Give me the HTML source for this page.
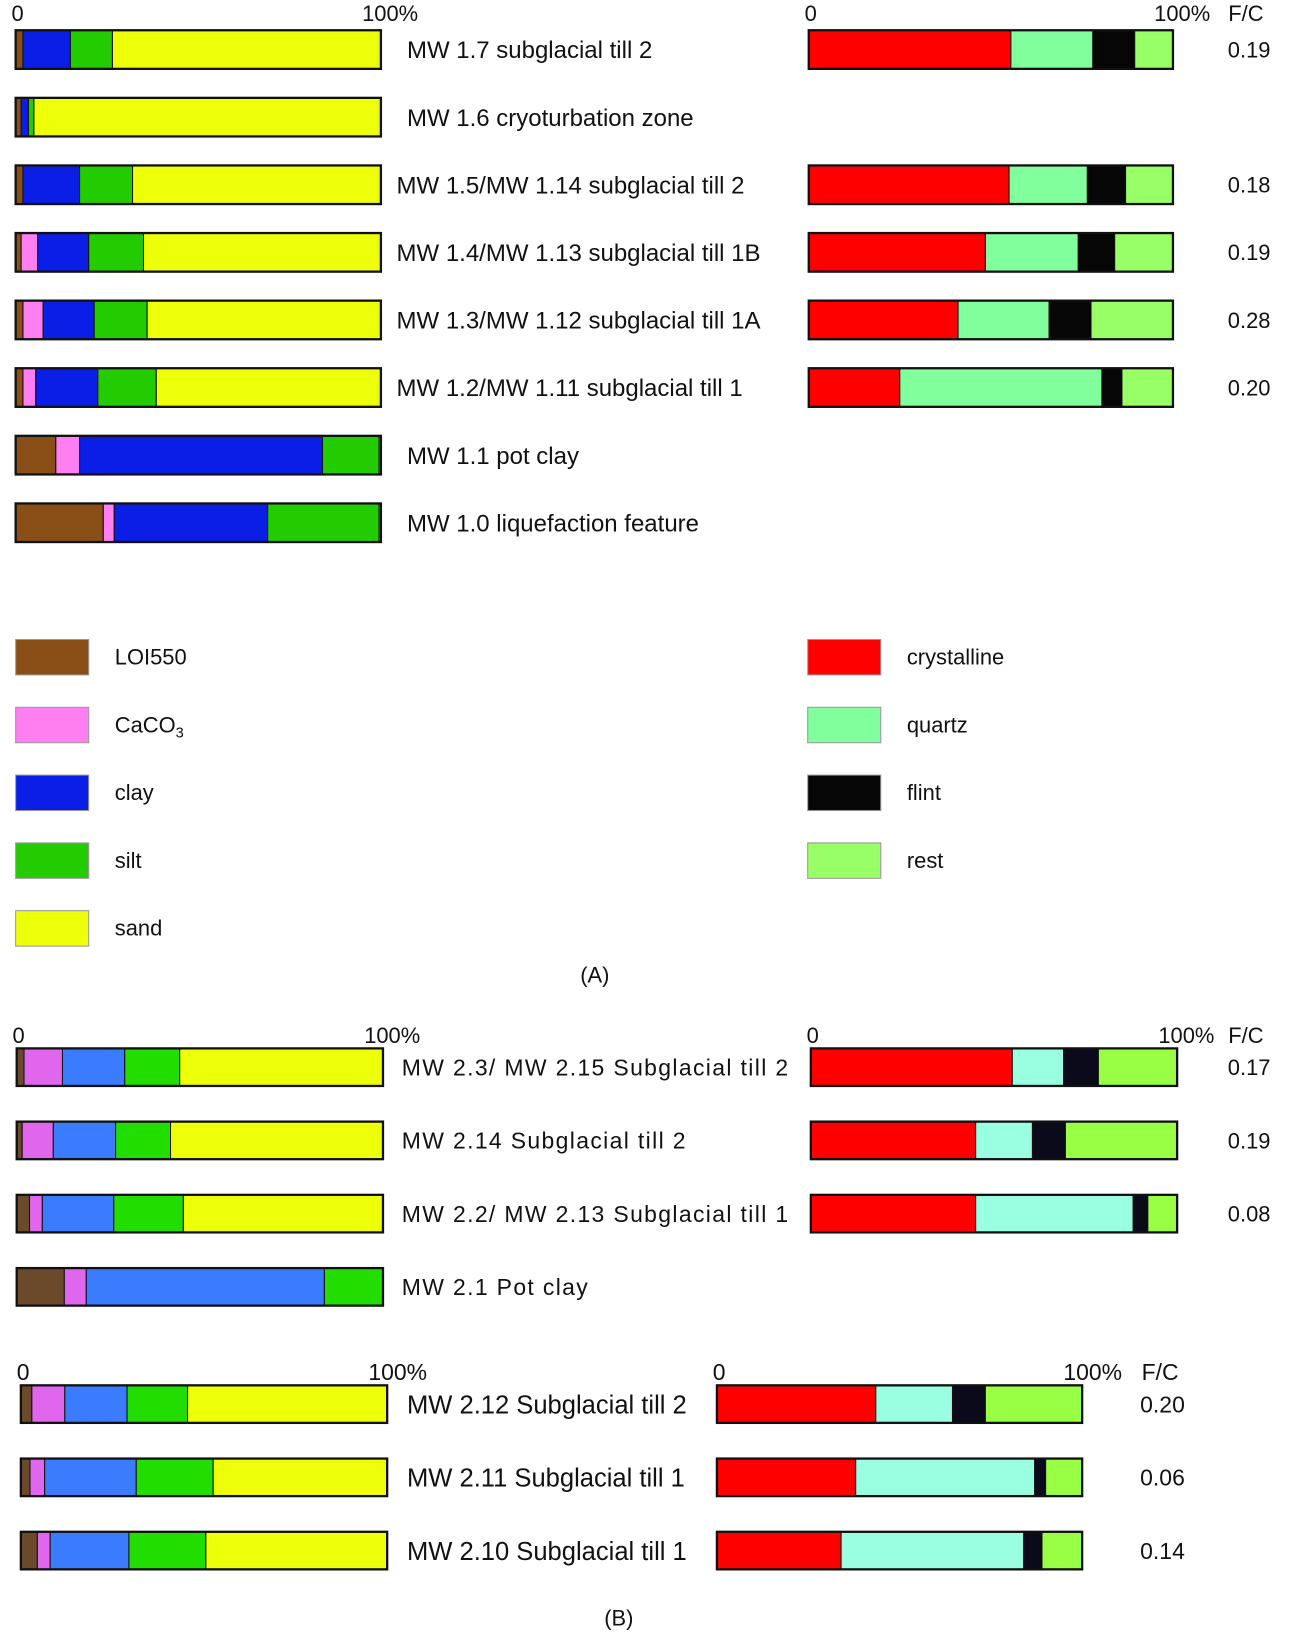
<!DOCTYPE html>
<html><head><meta charset="utf-8"><style>
html,body{margin:0;padding:0;background:#fff}
svg{display:block}
text{font-family:"Liberation Sans",sans-serif;fill:#111}
</style></head><body>
<svg id="fig" width="1294" height="1643" viewBox="0 0 1240 1575" preserveAspectRatio="none" xmlns="http://www.w3.org/2000/svg"></svg>
<script>
// ---- Panel A data ----
const aLabels = ["MW 1.7 subglacial till 2","MW 1.6 cryoturbation zone","MW 1.5/MW 1.14 subglacial till 2","MW 1.4/MW 1.13 subglacial till 1B","MW 1.3/MW 1.12 subglacial till 1A","MW 1.2/MW 1.11 subglacial till 1","MW 1.1 pot clay","MW 1.0 liquefaction feature"];
const aLOI   = [2, 1.5, 2, 1.5, 2, 2, 11, 24];
const aCaCO3 = [0, 0, 0, 4.5, 5.5, 3.5, 6.5, 3];
const aClay  = [13, 2, 15.5, 14, 14, 17, 66.5, 42];
const aSilt  = [11.5, 1.5, 14.5, 15, 14.5, 16, 15.5, 30.5];
const aSand  = [73.5, 95, 68, 65, 64, 61.5, 0.5, 0.5];
const aCryst  = [55.5, null, 55, 48.5, 41, 25, null, null];
const aQuartz = [22.5, null, 21.5, 25.5, 25, 55.5, null, null];
const aFlint  = [11.5, null, 10.5, 10, 11.5, 5.5, null, null];
const aRest   = [10.5, null, 13, 16, 22.5, 14, null, null];
const aFC = ["0.19", "", "0.18", "0.19", "0.28", "0.20", "", ""];
// ---- Panel B upper ----
const b1Labels = ["MW 2.3/ MW 2.15 Subglacial till 2","MW 2.14 Subglacial till 2","MW 2.2/ MW 2.13 Subglacial till 1","MW 2.1 Pot clay"];
const b1LOI   = [2, 1.5, 3.5, 13];
const b1CaCO3 = [10.5, 8.5, 3.5, 6];
const b1Clay  = [17, 17, 19.5, 65];
const b1Silt  = [15, 15, 19, 16];
const b1Sand  = [55.5, 58, 54.5, 0];
const b1Cryst  = [55, 45, 45, null];
const b1Quartz = [14, 15.5, 43, null];
const b1Flint  = [9.5, 9, 4, null];
const b1Rest   = [21.5, 30.5, 8, null];
const b1FC = ["0.17", "0.19", "0.08", ""];
// ---- Panel B lower ----
const b2Labels = ["MW 2.12 Subglacial till 2","MW 2.11 Subglacial till 1","MW 2.10 Subglacial till 1"];
const b2LOI   = [3, 2.5, 4.5];
const b2CaCO3 = [9, 4, 3.5];
const b2Clay  = [17, 25, 21.5];
const b2Silt  = [16.5, 21, 21];
const b2Sand  = [54.5, 47.5, 49.5];
const b2Cryst  = [43.5, 38, 34];
const b2Quartz = [21, 49, 50];
const b2Flint  = [9, 3, 5];
const b2Rest   = [26.5, 10, 11];
const b2FC = ["0.20", "0.06", "0.14"];

const NS = "http://www.w3.org/2000/svg";
const svg = document.getElementById("fig");
function el(tag, attrs, parent) {
  const e = document.createElementNS(NS, tag);
  for (const k in attrs) e.setAttribute(k, attrs[k]);
  (parent || svg).appendChild(e);
  return e;
}
function txt(x, y, s, size, parent, anchor) {
  const t = el("text", {x: x, y: y, "font-size": size, "text-anchor": anchor || "start"}, parent);
  t.textContent = s;
  return t;
}
const colA = {loi:"#8a4f16", ca:"#ff7ef0", clay:"#0a1ee6", silt:"#22cc00", sand:"#eeff0a", cr:"#ff0000", q:"#80ff9c", f:"#060606", r:"#99ff66"};
const colB = {loi:"#6b4a2b", ca:"#e066ee", clay:"#3b7cff", silt:"#22dd00", sand:"#eeff0a", cr:"#ff0000", q:"#99ffe0", f:"#0a0a1a", r:"#99ff44"};

function stackBar(x0, w, y, h, vals, cols, name) {
  const g = el("g", {});
  
  
  const xs = v => v / 100 * w;
  let acc = 0;
  vals.forEach((v, i) => {
    if (v == null || v <= 0) return;
    const r = el("rect", {x: x0 + xs(acc), y: y, width: xs(v), height: h, fill: cols[i], stroke: "#111", "stroke-width": 1}, g);
    
    
    acc += v;
  });
  const b = el("rect", {x: x0, y: y, width: w, height: h, fill: "none", stroke: "#111", "stroke-width": 2.2}, g);
  
  
}

function panel(cfg) {
  const {labels, loi, ca, clay, silt, sand, cr, q, fl, rest, fc, col, lx, lw, rx, rw, y0, dy, h, labX, fcX, axisY, fs, lfs, ls} = cfg;
  const t0 = txt(lx - 4, axisY, "0", fs);  
  const t1 = txt(lx + lw - 18, axisY, "100%", fs);  
  const t2 = txt(rx - 4, axisY, "0", fs);  
  const t3 = txt(rx + rw - 18, axisY, "100%", fs);  
  const t4 = txt(fcX - 20, axisY, "F/C", fs);  
  labels.forEach((lab, i) => {
    const y = y0 + i * dy;
    stackBar(lx, lw, y, h, [loi[i], ca[i], clay[i], silt[i], sand[i]], [col.loi, col.ca, col.clay, col.silt, col.sand], "grain-bar-" + i);
    const lt = txt(labX[i], y + h / 2 + lfs * 0.36, lab, lfs);
    if (ls) lt.setAttribute("letter-spacing", ls);
    
    
    if (cr[i] != null) {
      stackBar(rx, rw, y, h, [cr[i], q[i], fl[i], rest[i]], [col.cr, col.q, col.f, col.r], "clast-bar-" + i);
      const ft = txt(fcX, y + h / 2 + fs * 0.36, fc[i], fs, null, "middle");
      
      
    }
  });
}

panel({labels:aLabels, loi:aLOI, ca:aCaCO3, clay:aClay, silt:aSilt, sand:aSand, cr:aCryst, q:aQuartz, fl:aFlint, rest:aRest, fc:aFC, col:colA,
  lx:15, lw:350, rx:775, rw:349, y0:29, dy:64.8, h:37, labX:[390,390,380,380,380,380,390,390], fcX:1197, axisY:20, fs:21, lfs:23});
panel({labels:b1Labels, loi:b1LOI, ca:b1CaCO3, clay:b1Clay, silt:b1Silt, sand:b1Sand, cr:b1Cryst, q:b1Quartz, fl:b1Flint, rest:b1Rest, fc:b1FC, col:colB,
  lx:16, lw:351, rx:777, rw:351, y0:1005, dy:70.2, h:36, labX:[385,385,385,385], fcX:1197, axisY:1000, fs:21, lfs:22, ls:1.3});
panel({labels:b2Labels, loi:b2LOI, ca:b2CaCO3, clay:b2Clay, silt:b2Silt, sand:b2Sand, cr:b2Cryst, q:b2Quartz, fl:b2Flint, rest:b2Rest, fc:b2FC, col:colB,
  lx:20, lw:351, rx:687, rw:350, y0:1328, dy:70.2, h:36, labX:[390,390,390], fcX:1114, axisY:1323, fs:22, lfs:24.5});

// Legend A
const legL = [["LOI550", colA.loi], ["CaCO3", colA.ca], ["clay", colA.clay], ["silt", colA.silt], ["sand", colA.sand]];
const legR = [["crystalline", colA.cr], ["quartz", colA.q], ["flint", colA.f], ["rest", colA.r]];
function legend(items, sx, tx) {
  items.forEach((it, i) => {
    const y = 613 + i * 65;
    const g = el("g", {});
    
    
    el("rect", {x: sx, y: y, width: 70, height: 34, fill: it[1], stroke: "#999", "stroke-width": 1}, g);
    const t = el("text", {x: tx, y: y + 24, "font-size": 21}, g);
    if (it[0] === "CaCO3") {
      t.textContent = "CaCO";
      const s = el("tspan", {"font-size": 14, dy: 5}, t);
      s.textContent = "3";
    } else t.textContent = it[0];
  });
}
legend(legL, 15, 110);
legend(legR, 774, 869);
const pa = txt(570, 942, "(A)", 21, null, "middle");  
const pb = txt(593, 1558, "(B)", 21, null, "middle");  
</script>
</body></html>
